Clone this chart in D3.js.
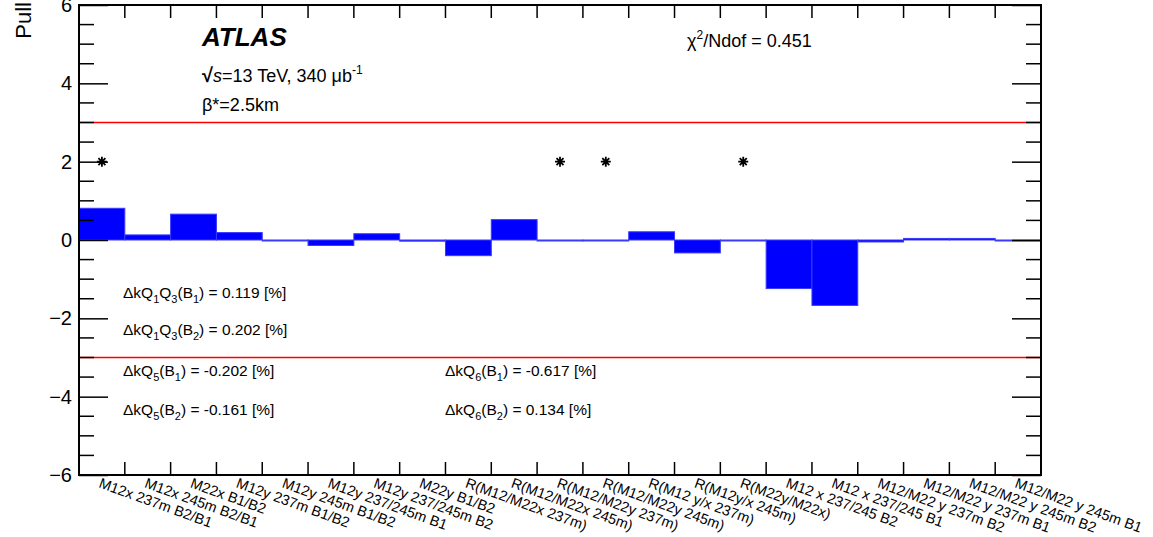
<!DOCTYPE html>
<html><head><meta charset="utf-8">
<script src="https://cdn.jsdelivr.net/npm/d3@7"></script>
<style>body{margin:0;background:#fff;} svg{display:block;font-family:"Liberation Sans",Arial,sans-serif;}</style>
</head><body>
<svg id="c" width="1153" height="537"></svg>
<script>
const categories = ["M12x 237m B2/B1","M12x 245m B2/B1","M22x B1/B2","M12y 237m B1/B2","M12y 245m B1/B2",
 "M12y 237/245m B1","M12y 237/245m B2","M22y B1/B2","R(M12/M22x 237m)","R(M12/M22x 245m)",
 "R(M12/M22y 237m)","R(M12/M22y 245m)","R(M12 y/x 237m)","R(M12y/x 245m)","R(M22y/M22x)",
 "M12 x 237/245 B2","M12 x 237/245 B1","M12/M22 y 237m B2","M12/M22 y 237m B1","M12/M22 y 245m B2","M12/M22 y 245m B1"];
const pulls = [0.81,0.13,0.66,0.19,-0.02,-0.14,0.16,-0.03,-0.40,0.52,-0.02,-0.02,0.21,-0.33,-0.01,-1.24,-1.67,-0.05,0.04,0.04,-0.02];
const markerCats = ["M12x 237m B2/B1","R(M12/M22y 237m)","R(M12/M22y 245m)","R(M22y/M22x)"];
const markerValue = 2;
const yTicks = [-6,-4,-2,0,2,4,6];
const yDomain = [-6,6];
const limitLines = [3,-3];
const annotations = [
 {col:0,row:0,q:[["ΔkQ",0],["1",1],["Q",0],["3",1]],b:"1",val:"0.119"},
 {col:0,row:1,q:[["ΔkQ",0],["1",1],["Q",0],["3",1]],b:"2",val:"0.202"},
 {col:0,row:2,q:[["ΔkQ",0],["5",1]],b:"1",val:"-0.202"},
 {col:0,row:3,q:[["ΔkQ",0],["5",1]],b:"2",val:"-0.161"},
 {col:1,row:2,q:[["ΔkQ",0],["6",1]],b:"1",val:"-0.617"},
 {col:1,row:3,q:[["ΔkQ",0],["6",1]],b:"2",val:"0.134"}
];

const svg = d3.select("#c");
const L=79, R=1041, T=5, B=475;
const x = d3.scaleBand().domain(categories).range([L,R]).padding(0);
const y = d3.scaleLinear().domain(yDomain).range([B,T]);

// bars
svg.append("g").selectAll("rect").data(pulls).join("rect")
 .attr("x",(d,i)=>x(categories[i]))
 .attr("width",x.bandwidth())
 .attr("y",d=>y(Math.max(0,d)))
 .attr("height",d=>Math.max(1,Math.abs(y(d)-y(0))))
 .attr("fill","#0000ff").attr("stroke","#3a3aff").attr("stroke-width",1);

// red limit lines
svg.append("g").selectAll("line").data(limitLines).join("line")
 .attr("x1",L).attr("x2",R).attr("y1",d=>y(d)).attr("y2",d=>y(d))
 .attr("stroke","#ff0000").attr("stroke-width",1.5);

// frame
svg.append("rect").attr("x",L).attr("y",T).attr("width",R-L).attr("height",B-T)
 .attr("fill","none").attr("stroke","#000").attr("stroke-width",2);

// x ticks (bin edges) bottom & top
const edges = d3.range(1,categories.length).map(i=>L+i*x.bandwidth());
svg.append("g").selectAll("line").data(edges).join("line")
 .attr("x1",d=>d).attr("x2",d=>d).attr("y1",B).attr("y2",B-13).attr("stroke","#000").attr("stroke-width",1.5);
svg.append("g").selectAll("line").data(edges).join("line")
 .attr("x1",d=>d).attr("x2",d=>d).attr("y1",T).attr("y2",T+13).attr("stroke","#000").attr("stroke-width",1.5);

// y ticks via axis (major), minor manually
const minor = d3.range(-6,6.01,0.5).filter(v=>!yTicks.includes(v));
const gL = svg.append("g").attr("transform",`translate(${L},0)`)
 .call(d3.axisRight(y).tickValues(yTicks).tickSize(29).tickFormat(""));
gL.select(".domain").remove();
gL.selectAll("line").attr("stroke-width",1.5);
svg.append("g").selectAll("line").data(minor).join("line")
 .attr("x1",L).attr("x2",L+15).attr("y1",d=>y(d)).attr("y2",d=>y(d)).attr("stroke","#000").attr("stroke-width",1.5);
const gR = svg.append("g").attr("transform",`translate(${R},0)`)
 .call(d3.axisLeft(y).tickValues(yTicks).tickSize(29).tickFormat(""));
gR.select(".domain").remove();
gR.selectAll("line").attr("stroke-width",1.5);
svg.append("g").selectAll("line").data(minor).join("line")
 .attr("x1",R).attr("x2",R-15).attr("y1",d=>y(d)).attr("y2",d=>y(d)).attr("stroke","#000").attr("stroke-width",1.5);

// y tick labels
svg.append("g").selectAll("text").data(yTicks).join("text")
 .attr("x",72).attr("y",d=>y(d)+7).attr("text-anchor","end").attr("font-size",20)
 .text(d=>d<0?"\u2212"+Math.abs(d):d);

// y title
svg.append("text").attr("transform","translate(31,2) rotate(-90)").attr("text-anchor","end")
 .attr("font-size",22).text("Pull");

// x labels
svg.append("g").selectAll("text").data(categories).join("text")
 .attr("transform",d=>`translate(${x(d)+x.bandwidth()/2-4},487) rotate(20)`)
 .attr("font-size",14.5).text(d=>d);

// markers
const star = s=>`M${-s},0L${s},0M0,${-s}L0,${s}M${-s*0.7},${-s*0.7}L${s*0.7},${s*0.7}M${-s*0.7},${s*0.7}L${s*0.7},${-s*0.7}`;
svg.append("g").selectAll("path").data(markerCats).join("path")
 .attr("transform",d=>`translate(${x(d)+x.bandwidth()/2},${y(markerValue)})`)
 .attr("d",star(5)).attr("stroke","#000").attr("stroke-width",1.8).attr("fill","none");

// ATLAS text
svg.append("text").attr("x",202).attr("y",46).attr("font-size",26).attr("font-weight","bold").attr("font-style","italic").text("ATLAS");
const t1 = svg.append("text").attr("x",202).attr("y",82).attr("font-size",18);
t1.append("tspan").attr("font-weight","bold").attr("font-size",20).text("\u221A");
t1.append("tspan").attr("font-style","italic").text("s");
t1.append("tspan").text("=13 TeV, 340 \u03BCb");
t1.append("tspan").attr("dy",-8).attr("font-size",12).text("-1");
svg.append("text").attr("x",202).attr("y",111).attr("font-size",18).text("\u03B2*=2.5km");
const t2 = svg.append("text").attr("x",687).attr("y",47).attr("font-size",18);
t2.append("tspan").text("\u03C7");
t2.append("tspan").attr("dy",-8).attr("font-size",12).text("2");
t2.append("tspan").attr("dy",8).text("/Ndof = 0.451");

// annotations
const colX=[123,445], rowY=[298,335,376,415];
const sh = 5;
annotations.forEach(a=>{
 const t = svg.append("text").attr("x",colX[a.col]).attr("y",rowY[a.row]).attr("font-size",15.5);
 let low = false;
 const add = (s, sub)=>{
   const ts = t.append("tspan").text(s);
   if(sub && !low){ ts.attr("dy",sh); low=true; }
   else if(!sub && low){ ts.attr("dy",-sh); low=false; }
   if(sub) ts.attr("font-size",11);
 };
 a.q.forEach(([s,k])=>add(s,k===1));
 add("(B",false);
 add(a.b,true);
 add(") = "+a.val+" [%]",false);
});
</script>
</body></html>
